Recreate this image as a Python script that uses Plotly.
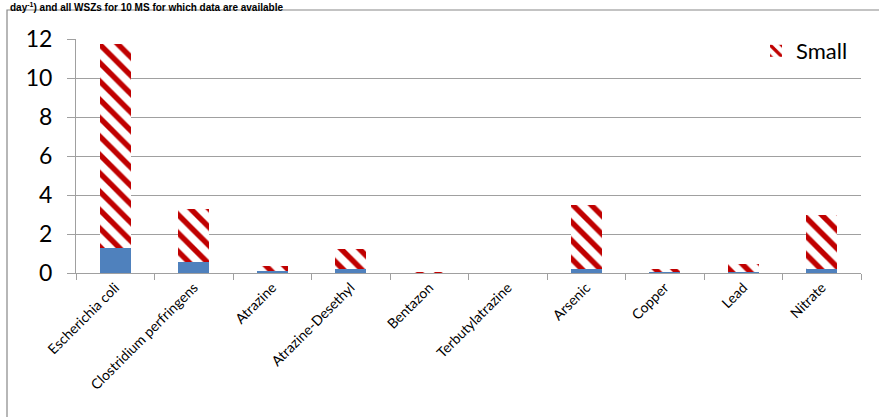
import plotly.graph_objects as go

categories = ["Escherichia coli", "Clostridium perfringens", "Atrazine", "Atrazine-Desethyl",
              "Bentazon", "Terbutylatrazine", "Arsenic", "Copper", "Lead", "Nitrate"]
large_values = [1.3, 0.55, 0.1, 0.2, 0.02, 0.0, 0.2, 0.05, 0.07, 0.2]
small_values = [10.45, 2.73, 0.25, 1.05, 0.03, 0.0, 3.28, 0.15, 0.38, 2.75]

W, H = 879, 417
L, R, T, B = 76, 18, 39, 144
pw, ph = W - L - R, H - T - B

fig = go.Figure()
fig.add_trace(go.Bar(
    x=categories, y=large_values, name="Large", showlegend=False,
    marker=dict(color="#4F81BD", line=dict(width=0)),
))
fig.add_trace(go.Bar(
    x=categories, y=small_values, name="Small",
    marker=dict(color="white", line=dict(width=0),
                pattern=dict(shape="\\", fgcolor="#C00000", bgcolor="white",
                             size=13, solidity=0.42, fillmode="replace")),
))

grid = "#A0A0A0"
fig.update_layout(
    width=W, height=H, barmode="stack", bargap=0.6,
    margin=dict(l=L, r=R, t=T, b=B),
    paper_bgcolor="white", plot_bgcolor="white",
    font=dict(family="Lato, Open Sans, sans-serif", color="black"),
    showlegend=True,
    legend=dict(x=(756 - L) / pw, y=1 - (30 - T) / ph, xanchor="left", yanchor="top",
                bgcolor="rgba(0,0,0,0)", font=dict(size=22), itemwidth=30,
                tracegroupgap=0),
    xaxis=dict(type="category", tickangle=-45, tickson="boundaries", ticks="outside",
               ticklen=6, tickcolor=grid, showline=True, linecolor=grid, linewidth=1,
               tickfont=dict(size=14, family="Lato, Open Sans, sans-serif"),
               showgrid=False),
    yaxis=dict(range=[0, 12], dtick=2, showgrid=True, gridcolor=grid, gridwidth=1,
               ticks="outside", ticklen=8, tickcolor=grid, showline=True,
               linecolor=grid, linewidth=1, zeroline=False,
               tickfont=dict(size=23), ticklabelstandoff=10),
    shapes=[dict(type="rect", xref="paper", yref="paper",
                 x0=(7 - L) / pw, x1=(W + 5 - L) / pw,
                 y0=-(H + 5 - T - ph) / ph, y1=1 + (T - 10) / ph,
                 line=dict(color="#888888", width=1.2), fillcolor="rgba(0,0,0,0)",
                 layer="below")],
    annotations=[dict(text="<b>day<sup>-1</sup>) and all WSZs for 10 MS for which data are available</b>",
                      xref="paper", yref="paper", x=(8 - L) / pw, y=1 + (T + 1) / ph,
                      xanchor="left", yanchor="top", showarrow=False,
                      font=dict(size=10, family="Liberation Sans, Arial", color="black"))],
)

fig.write_html("out.html")
